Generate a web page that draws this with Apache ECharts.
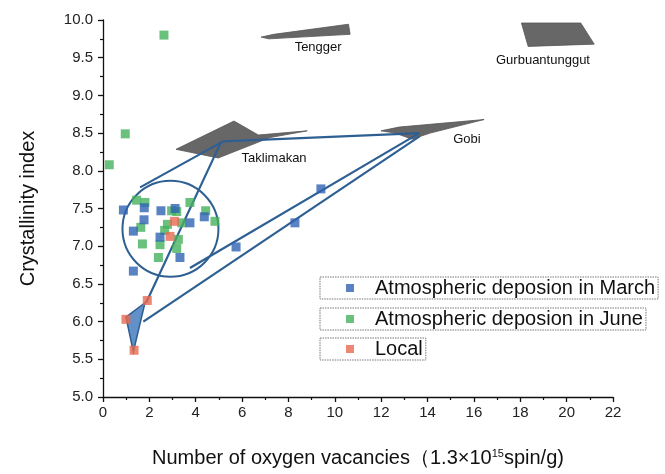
<!DOCTYPE html>
<html><head><meta charset="utf-8">
<script src="https://cdn.jsdelivr.net/npm/echarts@6/dist/echarts.min.js"></script>
<style>html,body{margin:0;padding:0;background:#fff}#c{width:665px;height:474px}</style>
</head><body><div id="c"></div>
<script>
// Sample measurements: oxygen vacancies (x) vs crystallinity index (y)
const marchX = [0.88, 1.78, 1.77, 1.31, 2.50, 3.11, 3.75, 4.37, 2.46, 3.32, 1.31, 5.74, 8.28, 9.40];
const marchY = [7.48, 7.51, 7.35, 7.20, 7.47, 7.50, 7.31, 7.39, 7.12, 6.85, 6.67, 6.99, 7.31, 7.76];
const juneX = [1.45, 1.81, 1.63, 1.70, 2.96, 3.18, 3.75, 4.43, 4.83, 3.40, 2.78, 2.66, 3.25, 3.18, 2.46, 2.39, 0.27, 2.63, 0.96];
const juneY = [7.61, 7.58, 7.25, 7.03, 7.47, 7.46, 7.58, 7.47, 7.33, 7.31, 7.29, 7.21, 7.09, 6.97, 7.02, 6.85, 8.08, 9.80, 8.49];
const localX = [3.08, 2.89, 1.91, 0.99, 1.34];
const localY = [7.33, 7.13, 6.28, 6.03, 5.62];

// Desert source regions (outlines in data units) and their label anchors
const desertNames = ['Tengger', 'Gurbuantunggut', 'Taklimakan', 'Gobi'];
const tenggerOutline = [[6.82, 9.773], [7.37, 9.81], [10.59, 9.944], [10.66, 9.81], [7.15, 9.75]];
const gurbanOutline = [[18.05, 9.96], [20.61, 9.96], [21.19, 9.68], [18.34, 9.65]];
const taklimakanOutline = [[3.15, 8.285], [5.65, 8.66], [6.70, 8.475], [8.81, 8.53], [7.20, 8.44], [4.97, 8.17]];
const gobiOutline = [[11.99, 8.53], [12.77, 8.58], [16.44, 8.68], [14.11, 8.50], [13.33, 8.42], [12.60, 8.50]];
const desertLabelX = [9.28, 18.98, 7.38, 15.70];
const desertLabelY = [9.63, 9.47, 8.17, 8.41];

// Envelope linking the local samples, the dust cluster and the deserts
const linkSegments = [
  [[5.18, 8.39], [13.67, 8.50]],
  [[13.59, 8.49], [3.75, 6.71]],
  [[13.67, 8.46], [1.74, 6.00]],
  [[1.86, 6.25], [5.09, 8.38]],
  [[5.18, 8.39], [1.60, 7.78]]
];
const localTriangle = [[1.81, 6.25], [0.99, 6.06], [1.31, 5.60]];
const clusterCenter = [2.91, 7.23];
const clusterRadiusX = 2.07;

const outlines = [tenggerOutline, gurbanOutline, taklimakanOutline, gobiOutline];
const pair = (xs, ys) => xs.map((x, i) => [x, ys[i]]);
const envColor = '#2e5f92';

const chart = echarts.init(document.getElementById('c'), null, { renderer: 'canvas' });
const FONT = 'Liberation Sans, Arial, sans-serif';

function legendBox(name, top) {
  return {
    data: [name], left: 320, top: top, orient: 'horizontal',
    borderColor: '#777', borderWidth: 1, borderType: [1.5, 1], borderRadius: 0,
    padding: [1, 3, 1, 26], itemWidth: 8, itemHeight: 8, icon: 'rect',
    textStyle: { fontFamily: FONT, fontSize: 20, color: '#111', padding: [0, 0, 0, 16] },
    selectedMode: false
  };
}

chart.setOption({
  animation: false,
  backgroundColor: '#fff',
  grid: { left: 103, right: 52, top: 20, bottom: 77, containLabel: false },
  legend: [
    legendBox('Atmospheric deposion in March', 277),
    legendBox('Atmospheric deposion in June', 308),
    legendBox('Local', 338)
  ],
  xAxis: {
    type: 'value', min: 0, max: 22, interval: 2,
    name: '{a|Number of oxygen vacancies（1.3×10}{s|15}{a|spin/g)}',
    nameLocation: 'middle', nameGap: 51,
    nameTextStyle: { rich: {
      a: { fontFamily: FONT, fontSize: 20, color: '#111' },
      s: { fontFamily: FONT, fontSize: 11, color: '#111', verticalAlign: 'bottom', padding: [0, 0, 9, 0] }
    } },
    axisLine: { show: true, lineStyle: { color: '#111', width: 1.3 } },
    axisTick: { show: true, length: 5, lineStyle: { color: '#111', width: 1.3 } },
    minorTick: { show: true, splitNumber: 2, length: 3, lineStyle: { color: '#111', width: 1.2 } },
    axisLabel: { fontFamily: FONT, fontSize: 15, color: '#222', margin: 8 },
    splitLine: { show: false }
  },
  yAxis: {
    type: 'value', min: 5, max: 10, interval: 0.5,
    name: 'Crystallinity index', nameLocation: 'middle', nameGap: 65,
    nameTextStyle: { fontFamily: FONT, fontSize: 20, color: '#111' },
    axisLine: { show: true, lineStyle: { color: '#111', width: 1.3 } },
    axisTick: { show: true, length: 5, lineStyle: { color: '#111', width: 1.3 } },
    minorTick: { show: true, splitNumber: 2, length: 3, lineStyle: { color: '#111', width: 1.2 } },
    axisLabel: { fontFamily: FONT, fontSize: 15, color: '#222', margin: 10, formatter: v => v.toFixed(1) },
    splitLine: { show: false }
  },
  series: [
    {
      name: 'deserts', type: 'custom', silent: true, clip: false, z: 1,
      data: desertNames.map((n, i) => [desertLabelX[i], desertLabelY[i], i]),
      renderItem: function (params, api) {
        const idx = api.value(2);
        const pts = outlines[idx].map(p => api.coord(p));
        const lp = api.coord([api.value(0), api.value(1)]);
        return {
          type: 'group', children: [
            { type: 'polygon', shape: { points: pts },
              style: { fill: '#676767', stroke: '#555', lineWidth: 0.8 } },
            { type: 'text', x: lp[0], y: lp[1],
              style: { text: desertNames[idx], fontFamily: FONT, fontSize: 13, fill: '#111', align: 'center', verticalAlign: 'middle' } }
          ]
        };
      }
    },
    {
      name: 'envelope', type: 'custom', silent: true, clip: false, z: 2,
      data: [[clusterCenter[0], clusterCenter[1]]],
      renderItem: function (params, api) {
        const c = api.coord(clusterCenter);
        const r = api.coord([clusterCenter[0] + clusterRadiusX, clusterCenter[1]])[0] - c[0];
        const children = [
          { type: 'polygon', shape: { points: localTriangle.map(p => api.coord(p)) },
            style: { fill: 'rgba(70,125,190,0.85)', stroke: envColor, lineWidth: 1.5 } },
          { type: 'circle', shape: { cx: c[0], cy: c[1], r: r },
            style: { fill: 'none', stroke: envColor, lineWidth: 2 } }
        ];
        linkSegments.forEach(seg => {
          const a = api.coord(seg[0]), b = api.coord(seg[1]);
          children.push({ type: 'line', shape: { x1: a[0], y1: a[1], x2: b[0], y2: b[1] },
            style: { stroke: envColor, lineWidth: 2.2 } });
        });
        return { type: 'group', children: children };
      }
    },
    { name: 'Atmospheric deposion in March', type: 'scatter', symbol: 'rect', symbolSize: 9, z: 5,
      itemStyle: { color: '#2f63b4' }, data: pair(marchX, marchY) },
    { name: 'Atmospheric deposion in June', type: 'scatter', symbol: 'rect', symbolSize: 9, z: 4,
      itemStyle: { color: '#45b05c' }, data: pair(juneX, juneY) },
    { name: 'Local', type: 'scatter', symbol: 'rect', symbolSize: 9, z: 6,
      itemStyle: { color: '#e6694f' }, data: pair(localX, localY) }
  ]
});
</script></body></html>
